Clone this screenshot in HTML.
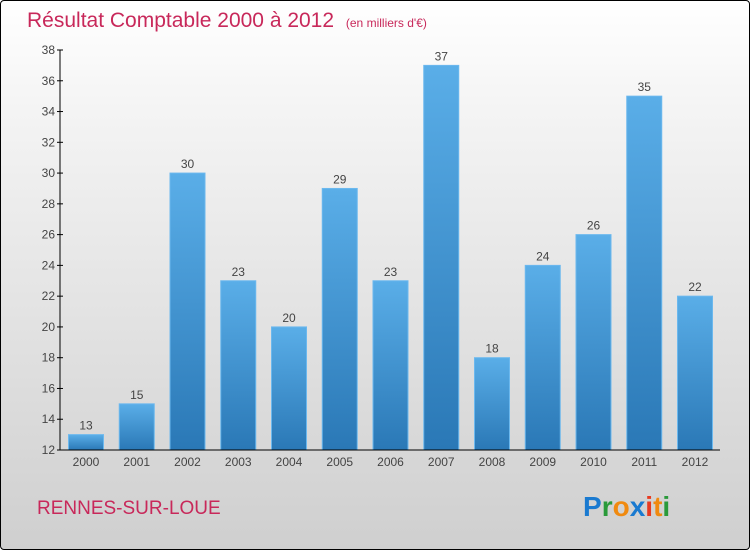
<!DOCTYPE html>
<html><head><meta charset="utf-8"><style>
html,body{margin:0;padding:0}
body{width:750px;height:550px;overflow:hidden;font-family:"Liberation Sans",sans-serif}
#frame{position:absolute;left:0;top:0;width:748px;height:548px;border:1px solid #000;border-radius:4px;background:linear-gradient(#ffffff,#f4f4f4 20%,#cfcfcf)}
</style></head><body>
<div id="frame"></div>
<svg id="chart" width="750" height="550" style="position:absolute;left:0;top:0">
<defs>
<linearGradient id="bg" x1="0" y1="0" x2="0" y2="1"><stop offset="0" stop-color="#5aaee8"/><stop offset="1" stop-color="#2a78b6"/></linearGradient>
</defs>
<text x="27" y="27" font-size="21" fill="#c8285a">Résultat Comptable 2000 à 2012 <tspan font-size="12" dx="6">(en milliers d'€)</tspan></text>
<text x="37" y="514" font-size="19" fill="#c8285a">RENNES-SUR-LOUE</text>
<g font-size="28" font-weight="bold" font-family="Liberation Sans,sans-serif">
<text x="583" y="516"><tspan fill="#1a7ad0">P</tspan><tspan fill="#2a9a3a">r</tspan><tspan fill="#f08a10">o</tspan><tspan fill="#1a7ad0">x</tspan><tspan fill="#e83a20">i</tspan><tspan fill="#f08a10">t</tspan><tspan fill="#2a9a3a">i</tspan></text>
</g>
<g id="plot"></g>
</svg>
<script>
const categories=["2000","2001","2002","2003","2004","2005","2006","2007","2008","2009","2010","2011","2012"];
const values=[13,15,30,23,20,29,23,37,18,24,26,35,22];
const yTicks=[12,14,16,18,20,22,24,26,28,30,32,34,36,38];
const yMin=12,yMax=38,pTop=50,pBottom=450,pLeft=60,pRight=720;
const y=v=>pBottom-(v-yMin)*(pBottom-pTop)/(yMax-yMin);
const step=50.75;
const x=i=>86+i*step;
const ns="http://www.w3.org/2000/svg";
const g=document.getElementById('plot');
function mk(t,a){const e=document.createElementNS(ns,t);for(const k in a)e.setAttribute(k,a[k]);g.appendChild(e);return e;}
values.forEach((v,i)=>{
 const r=mk('rect',{x:x(i)-17.5,y:y(v),width:35,height:pBottom-y(v),fill:'url(#bg)',stroke:'#6bb8ee','stroke-width':1});
 
 
 const t=mk('text',{x:x(i),y:y(v)-5,'text-anchor':'middle','font-size':12,fill:'#444'});
 t.textContent=v;
 
 
 const c=mk('text',{x:x(i),y:pBottom+16,'text-anchor':'middle','font-size':12,fill:'#444'});
 c.textContent=categories[i];
 
 
});
yTicks.forEach(v=>{
 const l=mk('line',{x1:pLeft-3,x2:pLeft+3,y1:y(v),y2:y(v),stroke:'#000'});
 
 
 const t=mk('text',{x:pLeft-5,y:y(v)+4,'text-anchor':'end','font-size':12,fill:'#444'});
 t.textContent=v;
 
 
});
const ya=mk('line',{x1:pLeft,x2:pLeft,y1:pTop,y2:pBottom,stroke:'#000'});


const xa=mk('line',{x1:pLeft,x2:pRight,y1:pBottom,y2:pBottom,stroke:'#000'});


</script>
</body></html>
